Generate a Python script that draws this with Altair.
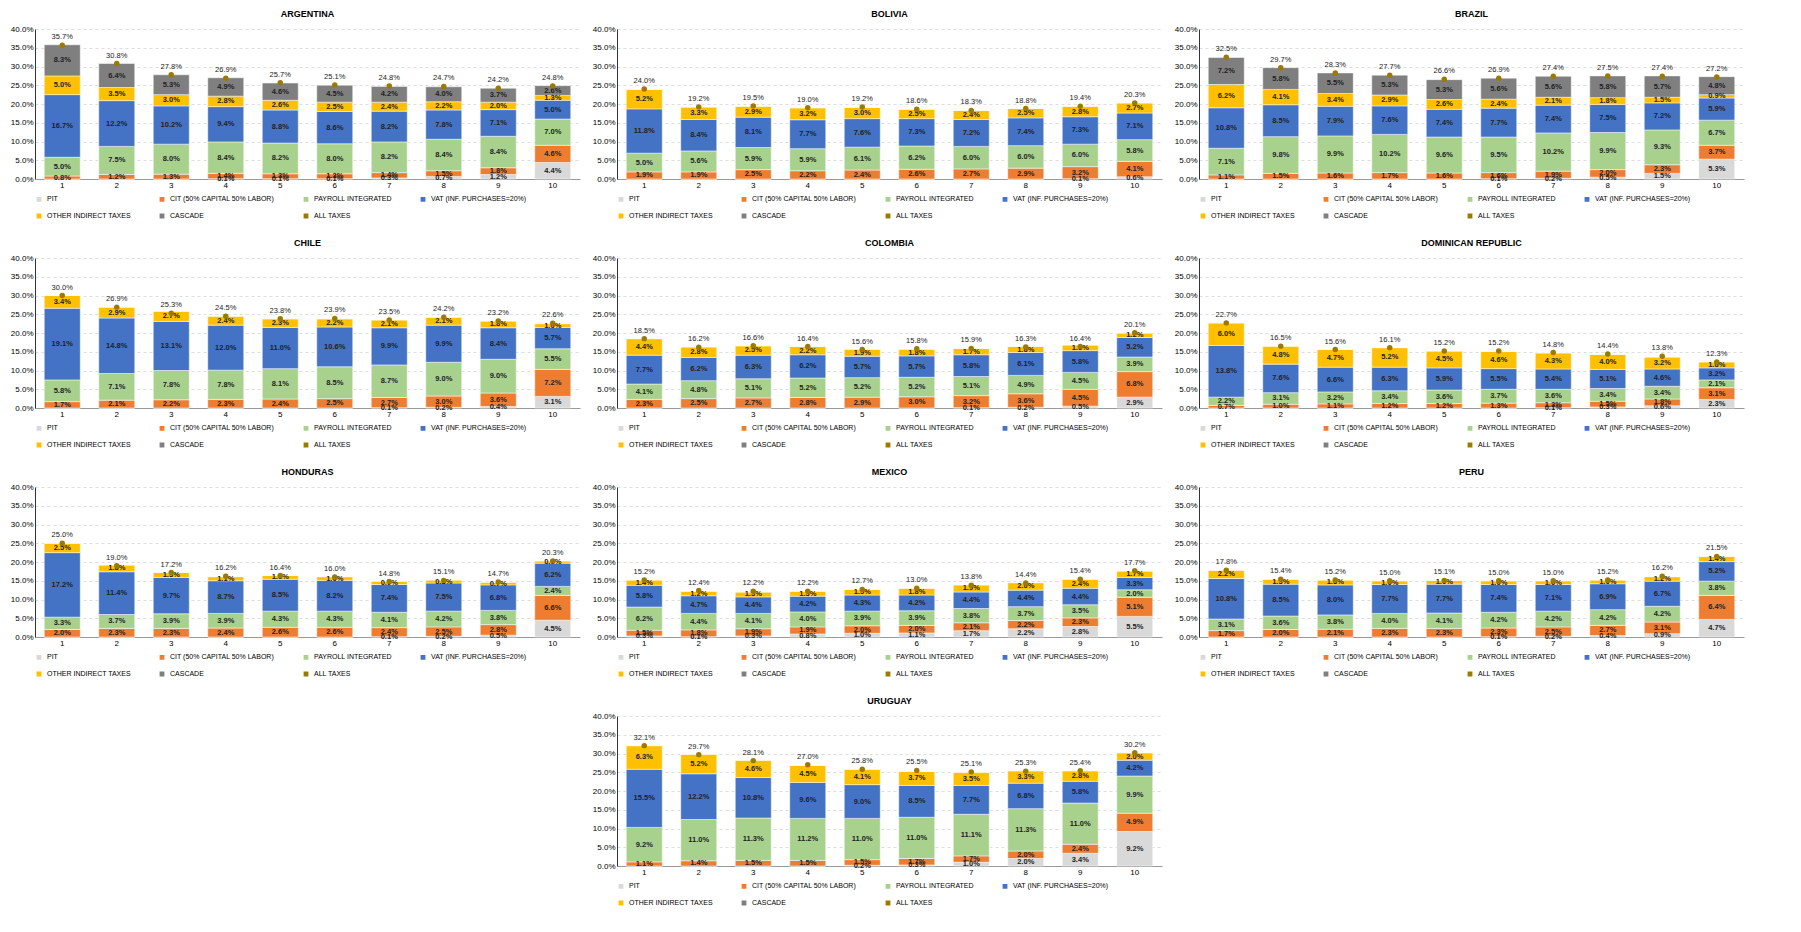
import altair as alt
import pandas as pd

deciles = list(range(1, 11))
series = ["PIT", "CIT (50% CAPITAL 50% LABOR)", "PAYROLL INTEGRATED", "VAT (INF. PURCHASES=20%)", "OTHER INDIRECT TAXES", "CASCADE"]
colors = ["#d9d9d9", "#ed7d31", "#a9d18e", "#4472c4", "#ffc000", "#7f7f7f", "#9c7a00"]

argentina = dict(
    PIT=[0, 0, 0, 0.1, 0.1, 0.1, 0.3, 0.7, 1.2, 4.4],
    CIT=[0.8, 1.2, 1.3, 1.4, 1.3, 1.3, 1.4, 1.5, 1.8, 4.6],
    PAY=[5.0, 7.5, 8.0, 8.4, 8.2, 8.0, 8.2, 8.4, 8.4, 7.0],
    VAT=[16.7, 12.2, 10.2, 9.4, 8.8, 8.6, 8.2, 7.8, 7.1, 5.0],
    OTH=[5.0, 3.5, 3.0, 2.8, 2.6, 2.5, 2.4, 2.2, 2.0, 1.3],
    CAS=[8.3, 6.4, 5.3, 4.9, 4.6, 4.5, 4.2, 4.0, 3.7, 2.6],
    TOT=[35.7, 30.8, 27.8, 26.9, 25.7, 25.1, 24.8, 24.7, 24.2, 24.8])
bolivia = dict(
    PIT=[0, 0, 0, 0, 0, 0, 0, 0, 0.1, 0.6],
    CIT=[1.9, 1.9, 2.5, 2.2, 2.4, 2.6, 2.7, 2.9, 3.2, 4.1],
    PAY=[5.0, 5.6, 5.9, 5.9, 6.1, 6.2, 6.0, 6.0, 6.0, 5.8],
    VAT=[11.8, 8.4, 8.1, 7.7, 7.6, 7.3, 7.2, 7.4, 7.3, 7.1],
    OTH=[5.2, 3.3, 2.9, 3.2, 3.0, 2.5, 2.4, 2.5, 2.8, 2.7],
    CAS=[0] * 10,
    TOT=[24.0, 19.2, 19.5, 19.0, 19.2, 18.6, 18.3, 18.8, 19.4, 20.3])
brazil = dict(
    PIT=[0, 0, 0, 0, 0, 0.1, 0.2, 0.5, 1.5, 5.3],
    CIT=[1.1, 1.5, 1.6, 1.7, 1.6, 1.6, 1.9, 2.0, 2.3, 3.7],
    PAY=[7.1, 9.8, 9.9, 10.2, 9.6, 9.5, 10.2, 9.9, 9.3, 6.7],
    VAT=[10.8, 8.5, 7.9, 7.6, 7.4, 7.7, 7.4, 7.5, 7.2, 5.9],
    OTH=[6.2, 4.1, 3.4, 2.9, 2.6, 2.4, 2.1, 1.8, 1.5, 0.9],
    CAS=[7.2, 5.8, 5.5, 5.3, 5.3, 5.6, 5.6, 5.8, 5.7, 4.8],
    TOT=[32.5, 29.7, 28.3, 27.7, 26.6, 26.9, 27.4, 27.5, 27.4, 27.2])
chile = dict(
    PIT=[0, 0, 0, 0, 0, 0, 0.1, 0.2, 0.4, 3.1],
    CIT=[1.7, 2.1, 2.2, 2.3, 2.4, 2.5, 2.7, 3.0, 3.6, 7.2],
    PAY=[5.8, 7.1, 7.8, 7.8, 8.1, 8.5, 8.7, 9.0, 9.0, 5.5],
    VAT=[19.1, 14.8, 13.1, 12.0, 11.0, 10.6, 9.9, 9.9, 8.4, 5.7],
    OTH=[3.4, 2.9, 2.7, 2.4, 2.3, 2.2, 2.1, 2.1, 1.8, 1.0],
    CAS=[0] * 10,
    TOT=[30.0, 26.9, 25.3, 24.5, 23.8, 23.9, 23.5, 24.2, 23.2, 22.6])
colombia = dict(
    PIT=[0, 0, 0, 0, 0, 0, 0.1, 0.2, 0.5, 2.9],
    CIT=[2.3, 2.5, 2.7, 2.8, 2.9, 3.0, 3.2, 3.6, 4.5, 6.8],
    PAY=[4.1, 4.8, 5.1, 5.2, 5.2, 5.2, 5.1, 4.9, 4.5, 3.9],
    VAT=[7.7, 6.2, 6.3, 6.2, 5.7, 5.7, 5.8, 6.1, 5.8, 5.2],
    OTH=[4.4, 2.8, 2.5, 2.2, 1.9, 1.8, 1.7, 1.6, 1.5, 1.2],
    CAS=[0] * 10,
    TOT=[18.5, 16.2, 16.6, 16.4, 15.6, 15.8, 15.9, 16.3, 16.4, 20.1])
dominican = dict(
    PIT=[0, 0, 0, 0, 0, 0, 0.1, 0.3, 0.6, 2.3],
    CIT=[0.7, 1.0, 1.1, 1.2, 1.2, 1.3, 1.3, 1.5, 1.8, 3.1],
    PAY=[2.2, 3.1, 3.2, 3.4, 3.6, 3.7, 3.6, 3.4, 3.4, 2.1],
    VAT=[13.8, 7.6, 6.6, 6.3, 5.9, 5.5, 5.4, 5.1, 4.6, 3.2],
    OTH=[6.0, 4.8, 4.7, 5.2, 4.5, 4.6, 4.3, 4.0, 3.2, 1.6],
    CAS=[0] * 10,
    TOT=[22.7, 16.5, 15.6, 16.1, 15.2, 15.2, 14.8, 14.4, 13.8, 12.3])
honduras = dict(
    PIT=[0, 0, 0, 0, 0, 0, 0.1, 0.2, 0.5, 4.5],
    CIT=[2.0, 2.3, 2.3, 2.4, 2.6, 2.6, 2.4, 2.5, 2.8, 6.6],
    PAY=[3.3, 3.7, 3.9, 3.9, 4.3, 4.3, 4.1, 4.2, 3.8, 2.4],
    VAT=[17.2, 11.4, 9.7, 8.7, 8.5, 8.2, 7.4, 7.5, 6.8, 6.2],
    OTH=[2.5, 1.8, 1.3, 1.1, 1.0, 1.0, 0.9, 0.8, 0.7, 0.6],
    CAS=[0] * 10,
    TOT=[25.0, 19.0, 17.2, 16.2, 16.4, 16.0, 14.8, 15.1, 14.7, 20.3])
mexico = dict(
    PIT=[0.3, 0.1, 0.3, 0.8, 1.0, 1.1, 1.7, 2.2, 2.8, 5.5],
    CIT=[1.5, 1.8, 1.9, 1.9, 2.0, 2.0, 2.1, 2.2, 2.3, 5.1],
    PAY=[6.2, 4.4, 4.1, 4.0, 3.9, 3.9, 3.8, 3.7, 3.5, 2.0],
    VAT=[5.8, 4.7, 4.4, 4.2, 4.3, 4.2, 4.4, 4.4, 4.4, 3.3],
    OTH=[1.4, 1.2, 1.3, 1.3, 1.5, 1.8, 1.9, 2.0, 2.4, 1.7],
    CAS=[0] * 10,
    TOT=[15.2, 12.4, 12.2, 12.2, 12.7, 13.0, 13.8, 14.4, 15.4, 17.7])
peru = dict(
    PIT=[0, 0, 0, 0, 0, 0.1, 0.2, 0.4, 0.9, 4.7],
    CIT=[1.7, 2.0, 2.1, 2.3, 2.3, 2.3, 2.5, 2.7, 3.1, 6.4],
    PAY=[3.1, 3.6, 3.8, 4.0, 4.1, 4.2, 4.2, 4.2, 4.2, 3.8],
    VAT=[10.8, 8.5, 8.0, 7.7, 7.7, 7.4, 7.1, 6.9, 6.7, 5.2],
    OTH=[2.2, 1.3, 1.3, 1.0, 1.0, 1.0, 1.0, 1.0, 1.2, 1.4],
    CAS=[0] * 10,
    TOT=[17.8, 15.4, 15.2, 15.0, 15.1, 15.0, 15.0, 15.2, 16.2, 21.5])
uruguay = dict(
    PIT=[0, 0, 0, 0, 0.2, 0.3, 1.0, 2.0, 3.4, 9.2],
    CIT=[1.1, 1.4, 1.5, 1.5, 1.5, 1.7, 1.7, 2.0, 2.4, 4.9],
    PAY=[9.2, 11.0, 11.3, 11.2, 11.0, 11.0, 11.1, 11.3, 11.0, 9.9],
    VAT=[15.5, 12.2, 10.8, 9.6, 9.0, 8.5, 7.7, 6.8, 5.8, 4.2],
    OTH=[6.3, 5.2, 4.6, 4.5, 4.1, 3.7, 3.5, 3.3, 2.8, 2.0],
    CAS=[0] * 10,
    TOT=[32.1, 29.7, 28.1, 27.0, 25.8, 25.5, 25.1, 25.3, 25.4, 30.2])

keys = ["PIT", "CIT", "PAY", "VAT", "OTH", "CAS"]
yticks = [0, 5, 10, 15, 20, 25, 30, 35, 40]
W, H = 545, 150


def panel(name, d):
    rows = []
    for i, dec in enumerate(deciles):
        for k, (key, s) in enumerate(zip(keys, series)):
            rows.append(dict(decile=dec, series=s, order=k, value=d[key][i]))
    df = pd.DataFrame(rows)
    tot = pd.DataFrame(dict(decile=deciles, total=d["TOT"], series="ALL TAXES"))
    xenc = alt.X("decile:O", title=None, axis=alt.Axis(labelAngle=0, labelFontSize=8, ticks=False, domainColor="#999"))
    yscale = alt.Scale(domain=[0, 40])
    yaxis = alt.Axis(values=yticks, labelExpr="format(datum.value,'.1f')+'%'",
                     labelFontSize=8, labelOverlap=False, gridDash=[3, 3], gridColor="#ddd",
                     ticks=False, domainColor="#333")
    color = alt.Color("series:N", scale=alt.Scale(domain=series + ["ALL TAXES"], range=colors),
                      legend=alt.Legend(orient="bottom", columns=4, title=None, labelFontSize=7,
                                        symbolType="square", symbolSize=40, columnPadding=24,
                                        labelLimit=200, offset=6, padding=0, rowPadding=3))
    base = alt.Chart(df).transform_stack(stack="value", groupby=["decile"], as_=["y0", "y1"],
                                         sort=[alt.SortField("order")]).transform_calculate(
        mid="(datum.y0+datum.y1)/2", lab="format(datum.value,'.1f')+'%'")
    bars = base.mark_bar(size=36, stroke="white", strokeWidth=0.5).encode(
        x=xenc, y=alt.Y("y0:Q", title=None, scale=yscale, axis=yaxis),
        y2="y1:Q", color=color)
    txt = base.transform_filter("datum.value > 0").mark_text(fontSize=7.5, fontWeight="bold", color="#222").encode(
        x=xenc, y=alt.Y("mid:Q", title=None, scale=yscale, axis=yaxis), text="lab:N")
    tb = alt.Chart(tot)
    pts = tb.mark_circle(size=30, opacity=1).encode(
        x=xenc, y=alt.Y("total:Q", title=None, scale=yscale, axis=yaxis), color=color)
    ttxt = tb.mark_text(fontSize=7.5, dy=-8, color="#222").encode(
        x=xenc, y=alt.Y("total:Q", title=None, scale=yscale, axis=yaxis),
        text=alt.Text("lab:N")).transform_calculate(lab="format(datum.total,'.1f')+'%'")
    return alt.layer(bars, txt, pts, ttxt).properties(
        width=W, height=H, title=alt.TitleParams(name, fontSize=9, fontWeight="bold", offset=6))


blank = alt.Chart(pd.DataFrame({"a": [0]})).mark_text(text="").encode(
    x=alt.X("a:Q", axis=None), y=alt.Y("a:Q", axis=None)).properties(width=W, height=H)


def row(*charts):
    return alt.hconcat(*charts, spacing=12).resolve_scale(color="independent")


chart = alt.vconcat(
    row(panel("ARGENTINA", argentina), panel("BOLIVIA", bolivia), panel("BRAZIL", brazil)),
    row(panel("CHILE", chile), panel("COLOMBIA", colombia), panel("DOMINICAN REPUBLIC", dominican)),
    row(panel("HONDURAS", honduras), panel("MEXICO", mexico), panel("PERU", peru)),
    row(blank, panel("URUGUAY", uruguay)),
    spacing=16
).resolve_scale(color="independent").configure(
    font="Liberation Sans", padding=2, view=alt.ViewConfig(stroke="transparent", strokeWidth=0))

chart.save("out.html", embed_options={"renderer": "svg", "actions": False})
